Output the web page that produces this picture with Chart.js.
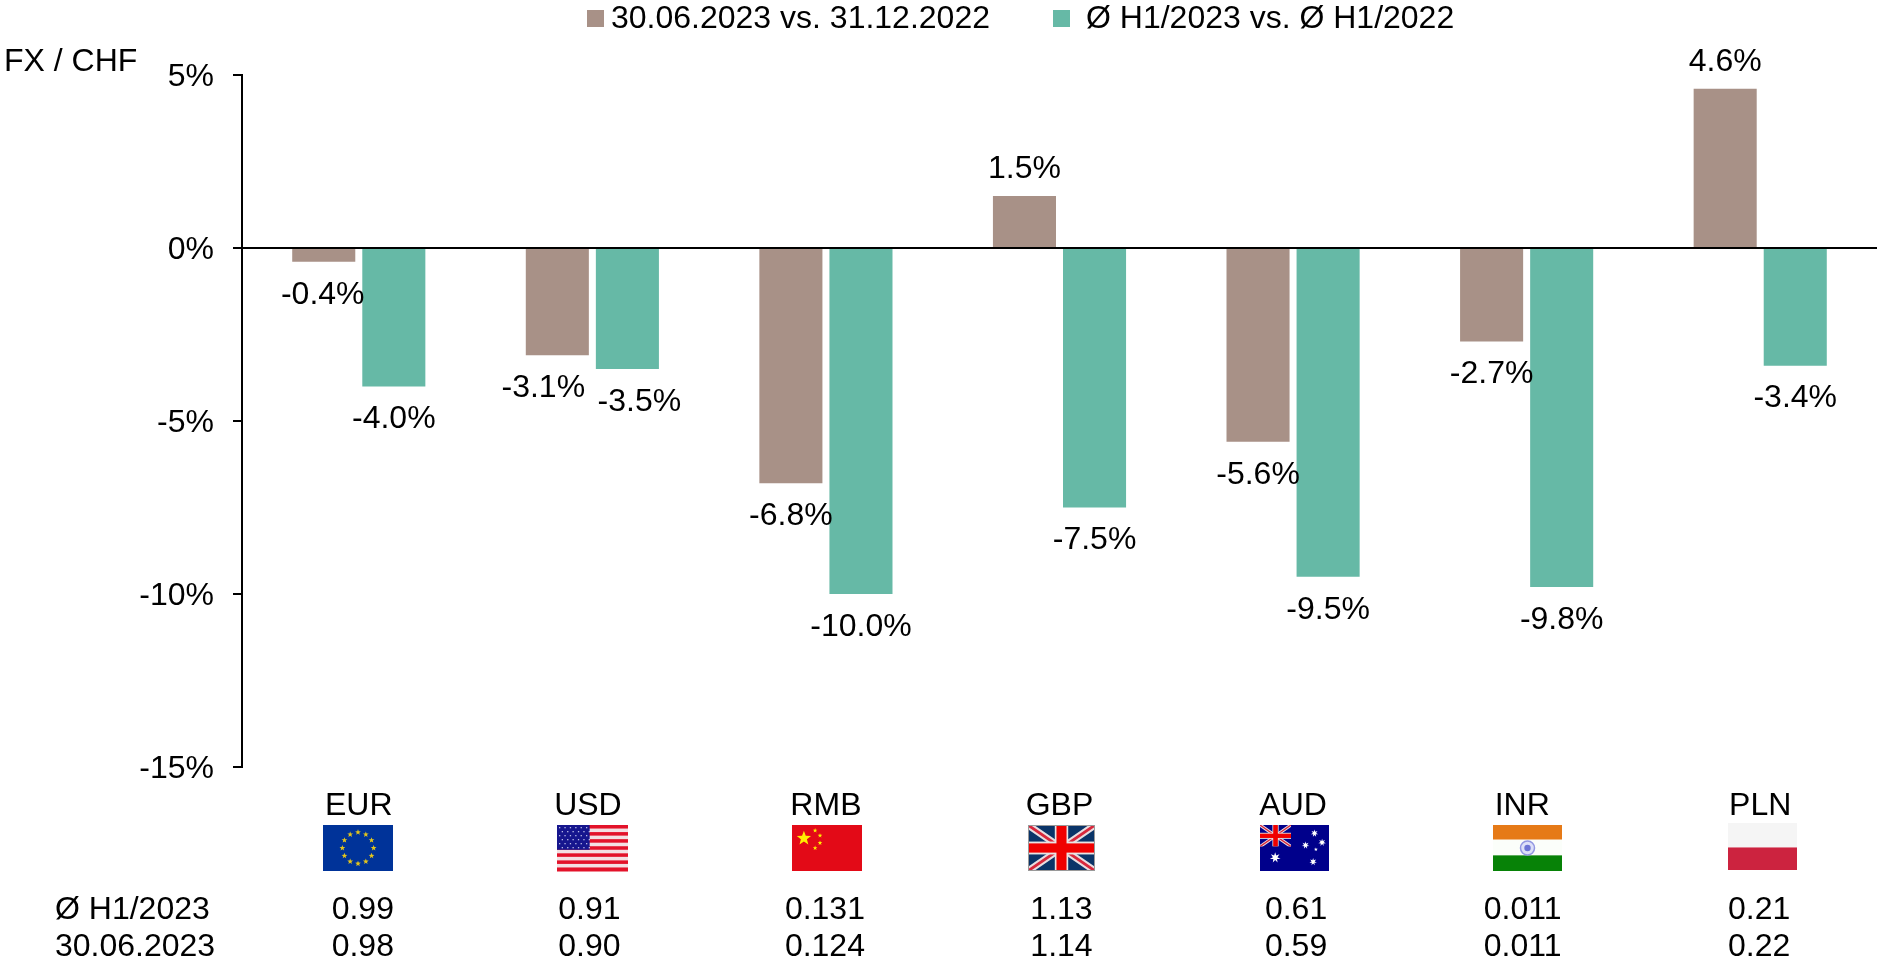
<!DOCTYPE html>
<html>
<head>
<meta charset="utf-8">
<style>
  html, body { margin: 0; padding: 0; background: #fff; overflow: hidden; }
  canvas { display: block; }
</style>
<script src="https://cdn.jsdelivr.net/npm/chart.js@4"></script>
</head>
<body>
<canvas id="chart" width="1880" height="966"></canvas>
<script>
// --- 1. Data ---
const currencies = ["EUR", "USD", "RMB", "GBP", "AUD", "INR", "PLN"];
const periodEnd = [-0.4, -3.1, -6.8, 1.5, -5.6, -2.7, 4.6];
const periodAvg = [-4.0, -3.5, -10.0, -7.5, -9.5, -9.8, -3.4];
const rateAvg = ["0.99", "0.91", "0.131", "1.13", "0.61", "0.011", "0.21"];
const rateEnd = ["0.98", "0.90", "0.124", "1.14", "0.59", "0.011", "0.22"];
const yTicks = [5, 0, -5, -10, -15];

const FAMILY = '"Liberation Sans", Arial, sans-serif';
const FONT = "32px " + FAMILY;
const BROWN = "#A89187";
const GREEN = "#66B9A6";

// small nudges so the labels sit where the original put them
const labelNudgeEnd = [-1, -14, 0, 0, 0, 0, 0];
const labelNudgeAvg = [0, 12, 0, 0, 0, 0, 0];
const flagNudge = [-1, 0, 1, 2, 1, 1, 2];
const flagWidth = [70, 71, 70, 67, 69, 69, 69];
const tableNudge = [4, -3, -1, 2, 3, -4, -1];

// --- 2. Flags ---
function star(c, x, y, r, color, points = 5) {
  c.fillStyle = color;
  c.beginPath();
  for (let i = 0; i < points * 2; i++) {
    const rad = i % 2 ? r * 0.42 : r;
    const a = -Math.PI / 2 + i * Math.PI / points;
    c.lineTo(x + Math.cos(a) * rad, y + Math.sin(a) * rad);
  }
  c.closePath();
  c.fill();
}

function unionJack(c, x, y, w, h, navy) {
  c.save();
  c.beginPath();
  c.rect(x, y, w, h);
  c.clip();
  c.fillStyle = navy;
  c.fillRect(x, y, w, h);
  const cross = (color, lw) => {
    c.strokeStyle = color;
    c.lineWidth = lw;
    c.beginPath();
    c.moveTo(x, y); c.lineTo(x + w, y + h);
    c.moveTo(x + w, y); c.lineTo(x, y + h);
    c.stroke();
  };
  cross("#E8DDE0", h * 0.15);
  cross("#D8283C", h * 0.06);
  c.fillStyle = "#E8E4E4";
  c.fillRect(x + w / 2 - w * 0.1, y, w * 0.2, h);
  c.fillRect(x, y + h / 2 - h * 0.14, w, h * 0.28);
  c.fillStyle = "#F00000";
  c.fillRect(x + w / 2 - w * 0.075, y, w * 0.15, h);
  c.fillRect(x, y + h / 2 - h * 0.1, w, h * 0.2);
  c.restore();
}

const flags = {
  EUR(c, x, y, w, h) {
    c.fillStyle = "#003399";
    c.fillRect(x, y, w, h);
    for (let i = 0; i < 12; i++) {
      const a = i * Math.PI / 6;
      star(c, x + w / 2 + Math.sin(a) * h * 0.34, y + h / 2 - Math.cos(a) * h * 0.34, 3, "#E3C51C");
    }
  },
  USD(c, x, y, w, h) {
    for (let i = 0; i < 13; i++) {
      c.fillStyle = i % 2 ? "#F3E0E3" : "#E3122A";
      c.fillRect(x, y + i * h / 13, w, h / 13 + 0.5);
    }
    c.fillStyle = "#16168E";
    c.fillRect(x, y, w * 0.46, h * 7 / 13);
    c.fillStyle = "#B9BAE6";
    for (let r = 0; r < 6; r++) {
      for (let k = 0; k < 6; k++) {
        c.fillRect(x + 2 + k * 5.4 + (r % 2) * 2.7, y + 2 + r * 4, 1.3, 1.3);
      }
    }
  },
  RMB(c, x, y, w, h) {
    c.fillStyle = "#E30A17";
    c.fillRect(x, y, w, h);
    star(c, x + w * 0.17, y + h * 0.29, 7.5, "#FFF000");
    [[0.33, 0.12], [0.4, 0.23], [0.4, 0.39], [0.33, 0.5]].forEach(p => {
      star(c, x + w * p[0], y + h * p[1], 2.4, "#FFF000");
    });
  },
  GBP(c, x, y, w, h) {
    unionJack(c, x, y, w, h, "#0A3468");
    c.strokeStyle = "#9a9a9a";
    c.lineWidth = 1;
    c.strokeRect(x + 0.5, y + 0.5, w - 1, h - 1);
  },
  AUD(c, x, y, w, h) {
    c.fillStyle = "#00008B";
    c.fillRect(x, y, w, h);
    unionJack(c, x, y, w * 0.45, h * 0.47, "#00008B");
    star(c, x + w * 0.22, y + h * 0.71, 5.5, "#fff", 7);
    [[0.79, 0.18], [0.66, 0.44], [0.9, 0.38], [0.77, 0.8]].forEach(p => {
      star(c, x + w * p[0], y + h * p[1], 3.8, "#fff", 7);
    });
    star(c, x + w * 0.81, y + h * 0.53, 2, "#fff", 5);
  },
  INR(c, x, y, w, h) {
    c.fillStyle = "#E67A17";
    c.fillRect(x, y, w, h * 0.32);
    c.fillStyle = "#FBFEFA";
    c.fillRect(x, y + h * 0.32, w, h * 0.36);
    c.fillStyle = "#078207";
    c.fillRect(x, y + h * 0.66, w, h * 0.34);
    c.strokeStyle = "#9297E2";
    c.lineWidth = 1.5;
    c.fillStyle = "#DDE0F8";
    c.beginPath();
    c.arc(x + w / 2, y + h / 2, 7, 0, Math.PI * 2);
    c.fill();
    c.stroke();
    c.fillStyle = "#6C74D6";
    c.beginPath();
    c.arc(x + w / 2, y + h / 2, 3.2, 0, Math.PI * 2);
    c.fill();
  },
  PLN(c, x, y, w, h) {
    c.fillStyle = "#F5F5F5";
    c.fillRect(x, y, w, h * 0.52);
    c.fillStyle = "#CC233F";
    c.fillRect(x, y + h * 0.52, w, h * 0.48);
  }
};

// --- 3. Plugins ---
const barLabels = {
  id: "barLabels",
  afterDatasetsDraw(chart) {
    const c = chart.ctx;
    c.save();
    c.font = FONT;
    c.fillStyle = "#000";
    c.textAlign = "center";
    c.textBaseline = "middle";
    const nudges = [labelNudgeEnd, labelNudgeAvg];
    chart.data.datasets.forEach((ds, d) => {
      chart.getDatasetMeta(d).data.forEach((bar, i) => {
        const v = ds.data[i];
        const y = v >= 0 ? bar.y - 27 : bar.y + 33;
        c.fillText(v.toFixed(1) + "%", bar.x + nudges[d][i], y);
      });
    });
    c.restore();
  }
};

const extras = {
  id: "extras",
  afterDraw(chart) {
    const c = chart.ctx;
    const x = chart.scales.x;
    c.save();
    c.font = FONT;
    c.fillStyle = "#000";
    c.textBaseline = "middle";

    // legend
    c.textAlign = "left";
    const legendBox = [587, 1053];
    const legendText = [611, 1086];
    chart.data.datasets.forEach((ds, d) => {
      c.fillStyle = ds.backgroundColor;
      c.fillRect(legendBox[d], 10, 17, 17);
      c.fillStyle = "#000";
      c.fillText(ds.label, legendText[d], 19);
    });

    // axis title and table row names
    c.fillText("FX / CHF", 4, 62);
    c.fillText("Ø H1/2023", 55, 910);
    c.fillText("30.06.2023", 55, 947);

    // flags and table
    c.textAlign = "center";
    currencies.forEach((cur, i) => {
      const cx = x.getPixelForValue(i);
      const top = cur === "PLN" ? 823 : 825;
      const w = flagWidth[i];
      flags[cur](c, Math.round(cx + flagNudge[i] - w / 2), top, w, cur === "PLN" ? 47 : 46);
      c.fillStyle = "#000";
      c.fillText(rateAvg[i], cx + tableNudge[i], 910);
      c.fillText(rateEnd[i], cx + tableNudge[i], 947);
    });
    c.restore();
  }
};

// --- 4. Chart ---
new Chart(document.getElementById("chart"), {
  type: "bar",
  data: {
    labels: currencies,
    datasets: [
      { label: "30.06.2023 vs. 31.12.2022", data: periodEnd, backgroundColor: BROWN },
      { label: "Ø H1/2023 vs. Ø H1/2022", data: periodAvg, backgroundColor: GREEN }
    ]
  },
  options: {
    responsive: false,
    animation: false,
    devicePixelRatio: 1,
    categoryPercentage: 0.6,
    barPercentage: 0.9,
    layout: { autoPadding: false, padding: { top: 75, right: 3, left: 0, bottom: 0 } },
    plugins: { legend: { display: false }, tooltip: { enabled: false } },
    scales: {
      x: {
        grid: { display: false, drawTicks: false },
        border: { display: false },
        ticks: {
          color: "#000",
          font: { family: FAMILY, size: 32 },
          padding: 20,
          maxRotation: 0,
          // trailing space pulls USD and INR a little left, like the original
          callback(v, i) { return currencies[i] + (i === 1 || i === 5 ? " " : ""); }
        },
        afterFit(axis) { axis.height = 199; }
      },
      y: {
        min: -15,
        max: 5,
        grid: {
          z: 1,
          lineWidth: 2,
          tickLength: 9,
          tickColor: "#000",
          color: ctx => ctx.tick && ctx.tick.value === 0 ? "#000" : "rgba(0,0,0,0)"
        },
        border: { color: "#000", width: 2, z: 2 },
        afterBuildTicks(axis) { axis.ticks = yTicks.map(v => ({ value: v })); },
        ticks: {
          color: "#000",
          font: { family: FAMILY, size: 32 },
          padding: 19,
          labelOffset: 2,
          callback: v => v + "%"
        },
        afterFit(axis) { axis.width = 242; }
      }
    }
  },
  plugins: [barLabels, extras]
});
</script>
</body>
</html>
